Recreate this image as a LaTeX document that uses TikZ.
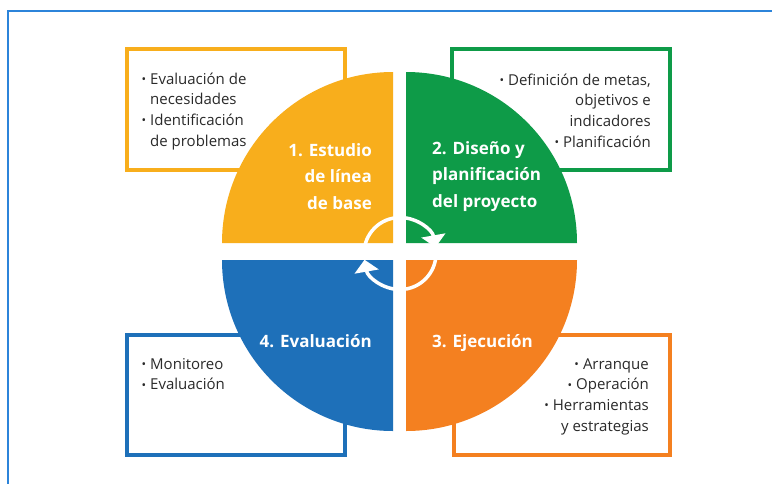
\documentclass[tikz,border=0pt]{standalone}
\usepackage{fontspec}
\setmainfont{Open Sans}
\usetikzlibrary{arrows.meta}
\definecolor{cyel}{HTML}{F8AE1C}
\definecolor{cgrn}{HTML}{0E9B48}
\definecolor{corg}{HTML}{F48020}
\definecolor{cblu}{HTML}{1E70B9}
\definecolor{cframe}{HTML}{2C84DA}
\definecolor{txtgray}{HTML}{2A2A2A}
\newcommand\mybul{\raisebox{0.8pt}{\fontsize{12}{12}\selectfont •}}
\begin{document}
\begin{tikzpicture}[x=1pt,y=-1pt,
  box/.style={line width=4pt, fill=white},
  itm/.style={inner sep=0pt, text=txtgray, font=\fontsize{15}{20.8}\selectfont},
  lbl/.style={inner sep=0pt, text=white, font=\fontsize{17}{26.5}\selectfont\bfseries},
  cyc/.style={draw=white, line width=3.5pt}
]
\useasboundingbox (0,0) rectangle (772,483);
\fill[white] (0,0) rectangle (772,483);
\draw[cframe, line width=2pt] (8,484) -- (8,11) -- (773,11);

% boxes
\draw[box, draw=cyel] (127,49) rectangle (345,170);
\draw[box, draw=cgrn] (452,49) rectangle (670,170);
\draw[box, draw=cblu] (127,335) rectangle (345,455);
\draw[box, draw=corg] (454,335) rectangle (670,455);

% quadrants
\fill[cyel] (393,243) -- (222,243) arc[start angle=180, end angle=270, radius=171] -- cycle;
\fill[cgrn] (406,243) -- (577,243) arc[start angle=0, end angle=-90, radius=171] -- cycle;
\fill[corg] (406,260) -- (577,260) arc[start angle=0, end angle=90, radius=171] -- cycle;
\fill[cblu] (393,260) -- (222,260) arc[start angle=180, end angle=90, radius=171] -- cycle;

% cycle arrows
\coordinate (cc) at (400,253.5);
\draw[cyc, -{Triangle[width=24pt,length=12pt]}] ([shift={(180:36)}]cc) arc[start angle=180, end angle=350, radius=36];
\draw[cyc, -{Triangle[width=24pt,length=12pt]}] ([shift={(0:36)}]cc) arc[start angle=0, end angle=170, radius=36];

% box texts
\node[itm, anchor=base west] (t1) at (150,84) {\begin{tabular}[t]{@{}l@{}}\llap{\mybul\hspace{4pt}}Evaluación de\\necesidades\\\llap{\mybul\hspace{4pt}}Identificación\\de problemas\end{tabular}};
\node[itm, anchor=base east] (t2) at (651,85) {\begin{tabular}[t]{@{}r@{}}\mybul\hspace{4pt}Definición de metas,\\objetivos e\\indicadores\\\mybul\hspace{4pt}Planificación\end{tabular}};
\node[itm, anchor=base west] (t4) at (150,369) {\begin{tabular}[t]{@{}l@{}}\llap{\mybul\hspace{4pt}}Monitoreo\\\llap{\mybul\hspace{4pt}}Evaluación\end{tabular}};
\node[itm, anchor=base east] (t3) at (649,369) {\begin{tabular}[t]{@{}r@{}}\mybul\hspace{4pt}Arranque\\\mybul\hspace{4pt}Operación\\\mybul\hspace{4pt}Herramientas\\y estrategias\end{tabular}};

% quadrant labels
\node[lbl, anchor=base east] (l1) at (372,156) {\begin{tabular}[t]{@{}r@{}}1. Estudio\\de línea\\de base\end{tabular}};
\node[lbl, anchor=base west] (l2) at (432,154) {\begin{tabular}[t]{@{}l@{}}2. Diseño y\\planificación\\del proyecto\end{tabular}};
\node[lbl, anchor=base west] (l3) at (432,347) {3. Ejecución};
\node[lbl, anchor=base east] (l4) at (372,347) {4. Evaluación};
\end{tikzpicture}
\end{document}
